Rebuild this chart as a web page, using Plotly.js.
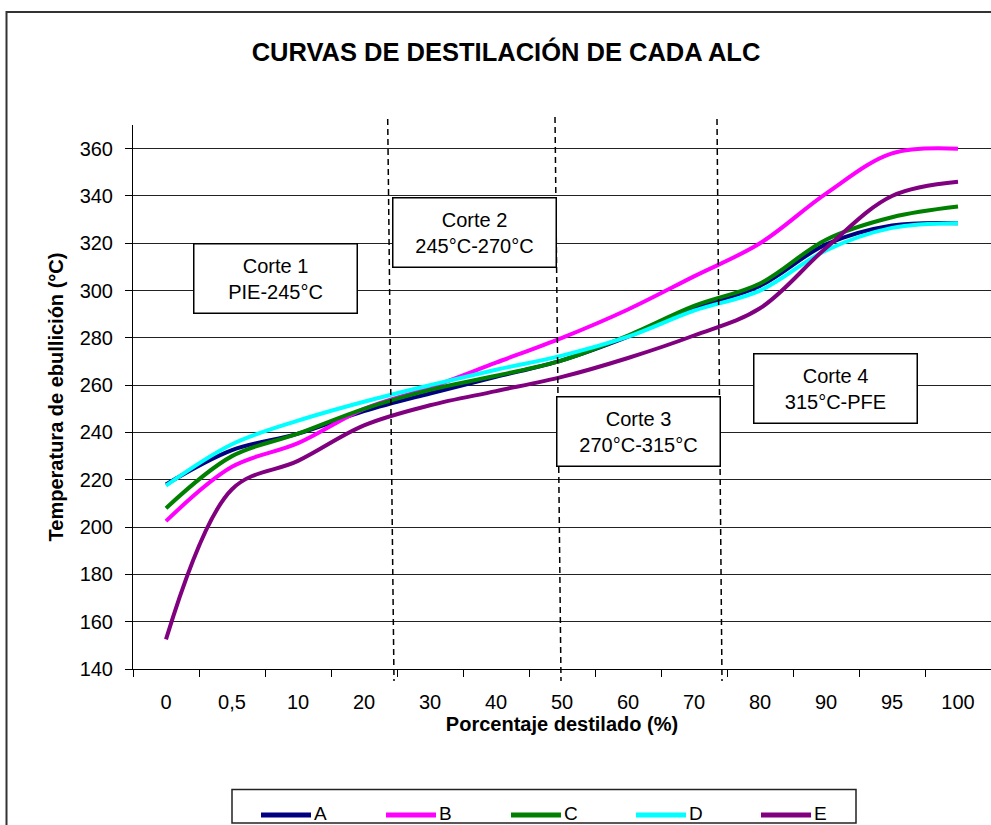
<!DOCTYPE html>
<html>
<head>
<meta charset="utf-8">
<script src="https://cdn.plot.ly/plotly-3.0.1.min.js"></script>
<style>html,body{margin:0;padding:0;background:#fff;}#chart{width:991px;height:825px;}</style>
</head>
<body>
<div id="chart"></div>
<script>
// Data
var categories = ['0', '0,5', '10', '20', '30', '40', '50', '60', '70', '80', '90', '95', '100'];
var seriesNames = ['A', 'B', 'C', 'D', 'E'];
var valuesA = [218, 232.5, 239.5, 249, 256.5, 263.5, 270.5, 280.5, 292.5, 302, 319.5, 327.5, 328.5];
var valuesB = [202.5, 225.5, 235.5, 250, 259, 269.5, 280, 292, 306, 320, 341, 358, 360];
var valuesC = [208, 230, 239.5, 250, 258, 264, 270.5, 281, 293.5, 303, 321.5, 331, 335.5];
var valuesD = [217.5, 235, 245, 253, 260, 266.5, 272.5, 280.5, 291.5, 300, 317, 326.5, 328.5];
var valuesE = [152.5, 216, 228, 243, 251.5, 257.5, 263.5, 271.5, 281, 292.5, 318, 340, 346];
var cutLabels = ['Corte 1<br>PIE-245°C', 'Corte 2<br>245°C-270°C', 'Corte 3<br>270°C-315°C', 'Corte 4<br>315°C-PFE'];
var yTicks = [140, 160, 180, 200, 220, 240, 260, 280, 300, 320, 340, 360];

var colors = ['#000080', '#FF00FF', '#008000', '#00FFFF', '#800080'];
var allValues = [valuesA, valuesB, valuesC, valuesD, valuesE];
var FONT = 'Liberation Sans, Arial, Helvetica, sans-serif';

// Pixel geometry helpers (layout only)
var W = 991, H = 825, ML = 133, MR = 0, MT = 125, MB = 156;
var PW = W - ML - MR, PH = H - MT - MB;
function px(x) { return (x - ML) / PW; }
function py(y) { return (H - MB - y) / PH; }

var traces = allValues.map(function (vals, i) {
  return {
    type: 'scatter', mode: 'lines', name: seriesNames[i],
    x: categories, y: vals,
    line: { color: colors[i], width: 4, shape: 'spline', smoothing: 1 },
    showlegend: false, hoverinfo: 'x+y+name'
  };
});

var shapes = [];
// outer chart border
shapes.push({ type: 'rect', xref: 'paper', yref: 'paper', x0: px(6.5), x1: px(1000), y0: py(12), y1: py(840),
  line: { color: '#333333', width: 2 }, fillcolor: 'rgba(0,0,0,0)' });
// dashed cut lines
var cutLines = [[387.7, 394], [555, 561], [717, 722]];
var cutTops = [119, 117, 119];
cutLines.forEach(function (c, i) {
  shapes.push({ type: 'line', xref: 'paper', yref: 'paper', x0: px(c[0]), y0: py(cutTops[i]), x1: px(c[1]), y1: py(681),
    line: { color: '#000', width: 1.5, dash: '6px,4px' }, layer: 'above' });
});
// manual legend
shapes.push({ type: 'rect', xref: 'paper', yref: 'paper', x0: px(232), x1: px(856), y0: py(789.5), y1: py(823),
  line: { color: '#222', width: 1.5 }, fillcolor: '#fff' });
var annotations = [];
seriesNames.forEach(function (n, i) {
  var lx = 261 + 125 * i;
  shapes.push({ type: 'line', xref: 'paper', yref: 'paper', x0: px(lx), x1: px(lx + 50), y0: py(815), y1: py(815),
    line: { color: colors[i], width: 5 } });
  annotations.push({ xref: 'paper', yref: 'paper', x: px(lx + 52), y: py(824.5), xanchor: 'left', yanchor: 'bottom',
    text: n, showarrow: false, borderpad: 0, font: { family: FONT, size: 19, color: '#000' } });
});
// cut boxes
var boxCenters = [[275, 278], [474, 233], [638.5, 431.5], [835, 388]];
cutLabels.forEach(function (t, i) {
  annotations.push({ xref: 'paper', yref: 'paper', x: px(boxCenters[i][0]), y: py(boxCenters[i][1]),
    xanchor: 'center', yanchor: 'middle', text: t, showarrow: false, align: 'center',
    width: 162, height: 68, bgcolor: '#fff', bordercolor: '#000', borderwidth: 1.5, borderpad: 0,
    font: { family: FONT, size: 20, color: '#000' } });
});

var layout = {
  width: W, height: H,
  margin: { l: ML, r: MR, t: MT, b: MB, pad: 0 },
  paper_bgcolor: '#fff', plot_bgcolor: '#fff',
  font: { family: FONT, size: 20, color: '#000' },
  title: { text: 'CURVAS DE DESTILACIÓN DE CADA ALC', xref: 'container', yref: 'container',
    x: 506 / W, y: 1 - 52 / H, xanchor: 'center', yanchor: 'middle',
    font: { family: FONT, size: 25.5, weight: 'bold', color: '#000' } },
  xaxis: {
    type: 'category', categoryorder: 'array', categoryarray: categories,
    range: [-0.5, categories.length - 0.5], autorange: false,
    tickson: 'boundaries', ticks: 'outside', ticklen: 7, tickcolor: '#000', tickwidth: 1,
    ticklabelstandoff: 15,
    showline: true, linecolor: '#000', linewidth: 1, showgrid: false, zeroline: false,
    tickfont: { family: FONT, size: 20, color: '#000' },
    title: { text: 'Porcentaje destilado (%)', standoff: 3, font: { family: FONT, size: 20, weight: 'bold', color: '#000' } }
  },
  yaxis: {
    range: [140, 370], autorange: false, tickmode: 'array', tickvals: yTicks,
    ticks: 'outside', ticklen: 7, tickcolor: '#000', tickwidth: 1,
    ticklabelstandoff: 8,
    showline: true, linecolor: '#000', linewidth: 1,
    showgrid: true, gridcolor: '#222', gridwidth: 1, zeroline: false,
    tickfont: { family: FONT, size: 20, color: '#000' },
    title: { text: 'Temperatura de ebullición (°C)', standoff: 10, font: { family: FONT, size: 20, weight: 'bold', color: '#000' } }
  },
  shapes: shapes,
  annotations: annotations
};

Plotly.newPlot('chart', traces, layout, { displayModeBar: false, responsive: false });
</script>
</body>
</html>
